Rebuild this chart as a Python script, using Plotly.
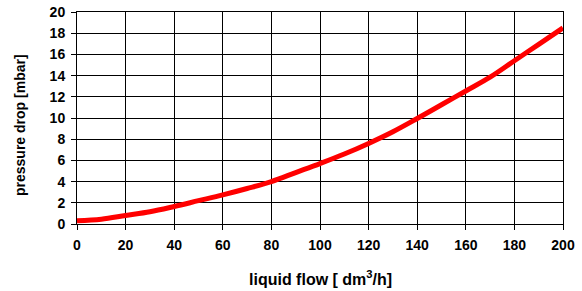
import plotly.graph_objects as go

flow = [0, 10, 20, 30, 40, 50, 60, 70, 80, 90, 100, 110, 120, 130, 140, 150, 160, 170, 180, 190, 200]
pressure = [0.3, 0.45, 0.8, 1.15, 1.65, 2.2, 2.75, 3.35, 4.0, 4.85, 5.7, 6.6, 7.6, 8.7, 9.95, 11.25, 12.55, 13.85, 15.4, 16.95, 18.5]

x_ticks = list(range(0, 201, 20))
y_ticks = list(range(0, 21, 2))

x_title = "liquid flow [ dm<sup>3</sup>/h]"
y_title = "pressure drop [mbar]"

fig = go.Figure()
fig.add_trace(go.Scatter(x=flow, y=pressure, mode="lines",
                         line=dict(color="#ff0000", width=5, shape="spline"),
                         showlegend=False))

font_family = "Liberation Sans, Arial, sans-serif"
fig.update_layout(
    width=582, height=291,
    margin=dict(l=77, r=19, t=12, b=67, autoexpand=False),
    paper_bgcolor="white", plot_bgcolor="white",
    font=dict(family=font_family, color="black"),
    annotations=[
        dict(text=x_title, xref="paper", yref="paper", x=0.5, y=0,
             xanchor="center", yanchor="middle", yshift=-54, showarrow=False,
             font=dict(size=16, family=font_family, weight="bold", color="black")),
        dict(text=y_title, xref="paper", yref="paper", x=0, y=0.5,
             xanchor="center", yanchor="middle", xshift=-57, yshift=-7,
             textangle=-90, showarrow=False,
             font=dict(size=14, family=font_family, weight="bold", color="black")),
    ],
)
fig.update_xaxes(
    range=[0, 200], tickvals=x_ticks, ticktext=[str(v) for v in x_ticks],
    automargin=False,
    showgrid=True, gridcolor="black", gridwidth=1,
    showline=True, linecolor="black", linewidth=1, mirror=True,
    ticks="outside", ticklen=5, tickcolor="black", ticklabelstandoff=3,
    tickfont=dict(size=14, family=font_family, weight="bold"),
    zeroline=False,
)
fig.update_yaxes(
    range=[0, 20], tickvals=y_ticks, ticktext=[str(v) for v in y_ticks],
    automargin=False,
    showgrid=True, gridcolor="black", gridwidth=1,
    showline=True, linecolor="black", linewidth=1, mirror=True,
    ticks="outside", ticklen=5, tickcolor="black", ticklabelstandoff=3,
    tickfont=dict(size=14, family=font_family, weight="bold"),
    zeroline=False,
)

fig.write_html("out.html", config={"displayModeBar": False},
               post_script="document.body.style.margin='0px';")
